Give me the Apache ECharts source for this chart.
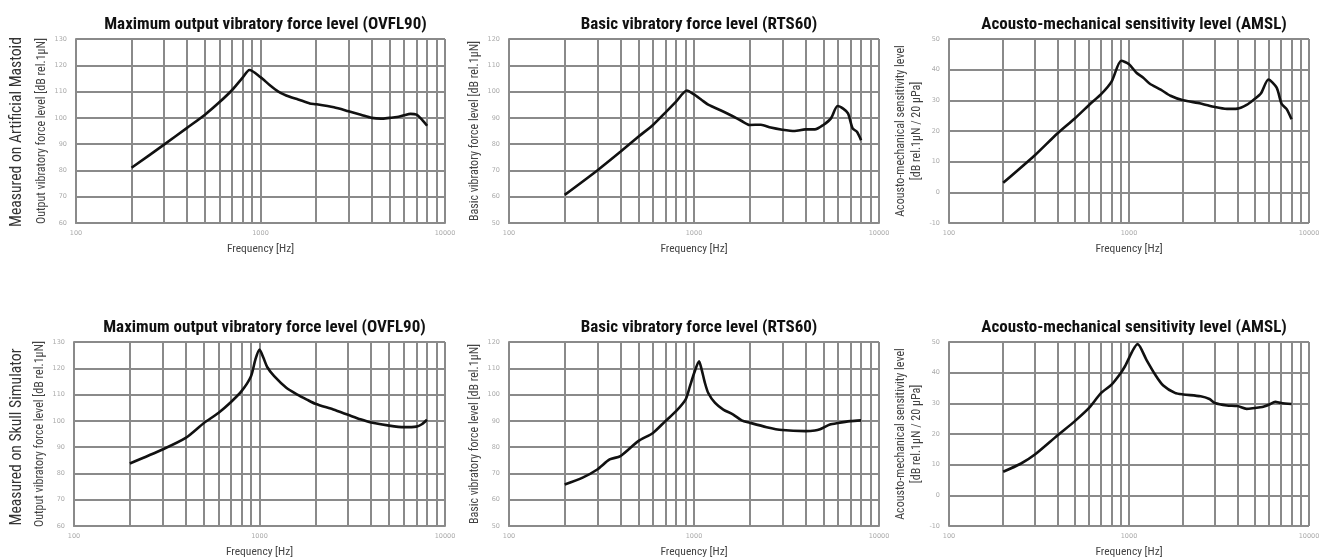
<!DOCTYPE html>
<html>
<head>
<meta charset="utf-8">
<script src="https://cdn.jsdelivr.net/npm/echarts@6/dist/echarts.min.js"></script>
<style>
html,body{margin:0;padding:0;background:#fff;}
#c{width:1330px;height:559px;}
</style>
</head>
<body>
<div id="c"></div>
<script>
// ---------- data ----------
const rowLabels = ['Measured on Artificial Mastoid', 'Measured on Skull Simulator'];
const panelTitles = ['Maximum output vibratory force level (OVFL90)', 'Basic vibratory force level (RTS60)', 'Acousto-mechanical sensitivity level (AMSL)'];
const yNames = ['Output vibratory force level [dB rel.1\u00b5N]', 'Basic vibratory force level [dB rel.1\u00b5N]', 'Acousto-mechanical sensitivity level\n[dB rel.1\u00b5N / 20 \u00b5Pa]'];
const xName = 'Frequency [Hz]';
const yMins = [60, 50, -10];
const yMaxs = [130, 120, 50];
const minorFreqs = [200, 300, 400, 500, 600, 700, 800, 900, 2000, 3000, 4000, 5000, 6000, 7000, 8000, 9000];

// Artificial mastoid
const fOvflAM = [200,300,400,500,600,700,800,871,1000,1120,1250,1440,1600,1850,2000,2500,3000,3500,4000,4500,5000,5500,6000,6500,7000,7500,8000];
const vOvflAM = [81,89.8,96.2,101.2,106,110.5,115.3,118.2,115.5,112.5,110,108,107,105.5,105.2,104,102.5,101.2,100,99.7,100,100.3,101,101.5,101.2,99.3,97];

const fRtsAM = [200,300,400,500,600,700,800,916,1000,1100,1200,1400,1600,1800,2000,2300,2600,3000,3500,4000,4500,5000,5500,5970,6400,6800,7200,7600,8000];
const vRtsAM = [60.7,70,77.1,82.8,87.3,92,96.2,100.4,98.9,96.8,94.9,92.8,90.8,88.9,87.3,87.4,86.3,85.5,85,85.6,85.6,87.3,89.8,94.5,93.5,91.7,86,84.7,81.5];

const fAmslAM = [200,300,400,500,600,700,800,906,1000,1100,1200,1300,1500,1700,2000,2500,3000,3500,4000,4500,5000,5400,5950,6600,7050,7500,8000];
const vAmslAM = [3.1,12.1,19.2,24.1,28.5,32,36.1,42.9,41.8,39,37.4,35.5,33.5,31.5,30,29,27.8,27.2,27.3,28.5,30.5,32.2,36.8,34.2,28.8,27.2,23.8];

// Skull simulator
const fOvflSS = [200,300,400,500,600,700,800,900,950,1000,1050,1100,1200,1400,1600,1800,2000,2500,3000,3500,4000,5000,6000,7000,7500,8000];
const vOvflSS = [83.8,89.1,93.5,99.1,103,107.1,111.3,117,123.3,127.1,124,120.5,117,112.5,110,108.1,106.5,104.3,102.3,100.6,99.4,98.2,97.6,97.8,98.7,100.4];

const fRtsSS = [200,250,300,350,400,500,600,700,800,900,950,1000,1065,1100,1146,1194,1300,1440,1630,1810,2000,2470,3000,4000,4500,4800,5430,6000,7000,8000];
const vRtsSS = [65.8,68.4,71.5,75.3,76.6,82.3,85.4,89.9,93.7,98.1,103.1,108,112.7,109.5,104.4,100.6,96.8,94.3,92.4,90.2,89.3,87.6,86.5,86.1,86.3,86.8,88.6,89.2,89.9,90.2];

const fAmslSS = [200,250,300,400,500,600,700,800,900,950,1117,1250,1400,1550,1800,2000,2500,2800,3000,3500,4000,4500,5000,5500,6000,6500,7000,8000];
const vAmslSS = [7.7,10.3,13.3,19.5,24.2,28.5,33.4,36.1,39.9,42.1,49.3,44.2,39.3,35.8,33.4,32.9,32.3,31.4,30.1,29.3,29.1,28.2,28.5,28.8,29.6,30.5,30.1,29.8];

const panelFreqs = [fOvflAM, fRtsAM, fAmslAM, fOvflSS, fRtsSS, fAmslSS];
const panelVals = [vOvflAM, vRtsAM, vAmslAM, vOvflSS, vRtsSS, vAmslSS];

// ---------- layout ----------
const gridBoxes = [
  {left: 76, top: 39, width: 369, height: 184},
  {left: 509, top: 39, width: 370, height: 184},
  {left: 949, top: 39, width: 360, height: 184},
  {left: 74, top: 342, width: 371, height: 185},
  {left: 509, top: 342, width: 370, height: 185},
  {left: 949, top: 342, width: 360, height: 185}
];

const NARROW = "'Liberation Sans Narrow','Arial Narrow','Roboto Condensed',sans-serif";
const GRIDC = '#8a8a8a';

const grids = [], xAxes = [], yAxes = [], series = [], titles = [];
for (let i = 0; i < 6; i++) {
  const g = gridBoxes[i];
  const col = i % 3;
  grids.push({left: g.left, top: g.top, width: g.width, height: g.height, show: true, borderColor: '#b5b5b5', borderWidth: 1, containLabel: false});
  xAxes.push({
    gridIndex: i, type: 'log', logBase: 10, min: 100, max: 10000,
    name: xName, nameLocation: 'middle', nameGap: 20,
    nameTextStyle: {fontFamily: NARROW, fontSize: 11.5, color: '#444'},
    axisLine: {show: true, lineStyle: {color: GRIDC, width: 2}},
    axisTick: {show: false},
    axisLabel: {fontSize: 6.5, color: '#aaa', margin: 7, fontFamily: 'DejaVu Sans', formatter: v => String(Math.round(v))},
    splitLine: {show: true, lineStyle: {color: GRIDC, width: 2}}
  });
  yAxes.push({
    gridIndex: i, type: 'value', min: yMins[col], max: yMaxs[col], interval: 10,
    name: yNames[col], nameLocation: 'middle', nameRotate: 90, nameGap: col === 2 ? 22 : 26,
    nameTextStyle: {fontFamily: NARROW, fontSize: 12, color: '#444', lineHeight: 16},
    axisLine: {show: true, lineStyle: {color: GRIDC, width: 2}},
    axisTick: {show: false},
    axisLabel: {fontSize: 6.5, color: '#aaa', margin: 9, fontFamily: 'DejaVu Sans'},
    splitLine: {show: true, lineStyle: {color: GRIDC, width: 2}}
  });
  const fr = panelFreqs[i], vs = panelVals[i];
  series.push({
    type: 'line', xAxisIndex: i, yAxisIndex: i,
    data: fr.map((f, k) => [f, vs[k]]),
    showSymbol: false, smooth: 0.25,
    lineStyle: {color: '#111', width: 2.6},
    z: 5,
    markLine: {
      silent: true, symbol: ['none', 'none'], animation: false,
      label: {show: false},
      lineStyle: {color: GRIDC, width: 2, type: 'solid'},
      data: minorFreqs.map(f => ({xAxis: f}))
    }
  });
  titles.push({
    text: panelTitles[col],
    left: g.left + g.width / 2, textAlign: 'center',
    top: i < 3 ? 11 : 314,
    textStyle: {fontFamily: NARROW, fontWeight: 'bold', fontSize: 17, color: '#111'}
  });
}

const chart = echarts.init(document.getElementById('c'));
chart.setOption({
  animation: false,
  backgroundColor: '#fff',
  title: titles,
  grid: grids,
  xAxis: xAxes,
  yAxis: yAxes,
  series: series,
  graphic: [
    {type: 'text', x: 17, y: 132, rotation: Math.PI / 2,
     style: {text: rowLabels[0], fill: '#333', font: "15.7px " + NARROW, align: 'center', verticalAlign: 'middle'}},
    {type: 'text', x: 17, y: 437, rotation: Math.PI / 2,
     style: {text: rowLabels[1], fill: '#333', font: "15.7px " + NARROW, align: 'center', verticalAlign: 'middle'}}
  ]
});
</script>
</body>
</html>
